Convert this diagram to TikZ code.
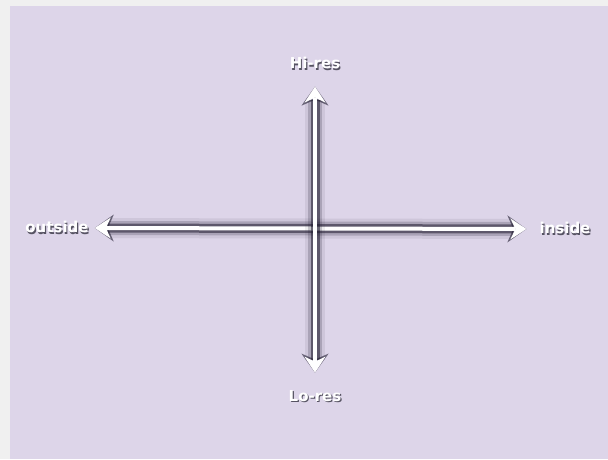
\documentclass[tikz,border=0pt]{standalone}
\usepackage{fontspec}
\setmainfont{DejaVu Sans}
\usetikzlibrary{arrows.meta}
\definecolor{lavender}{HTML}{DDD5E9}
\definecolor{margingray}{HTML}{F0F0F0}
\definecolor{halo}{HTML}{1E1A2E}
\newcommand{\glowtext}[1]{\makebox[0pt][l]{\hspace{1.2pt}\raisebox{-1.2pt}{\color{halo!75}#1}}#1}
\tikzstyle{lbl} = [text=white, font=\fontsize{15}{15}\selectfont\bfseries, inner sep=2pt]
\tikzstyle{tips} = [{Stealth[length=16pt,width=21pt,inset=5pt,line width=0pt]}-{Stealth[length=16pt,width=21pt,inset=5pt,line width=0pt]}]
\tikzstyle{halotips} = [{Stealth[length=19pt,width=27pt,inset=6pt,line width=0pt]}-{Stealth[length=19pt,width=27pt,inset=6pt,line width=0pt]}]
\tikzstyle{axis} = [tips, white, line width=4pt,
    preaction={draw=halo, draw opacity=0.08, fill opacity=0.08, line width=20pt, halotips},
    preaction={draw=halo, draw opacity=0.2, fill opacity=0.2, line width=14pt, halotips},
    preaction={draw=halo, draw opacity=0.55, fill opacity=0.45, line width=9pt, halotips}]

\begin{document}
\begin{tikzpicture}[x=1pt, y=-1pt]
        % Background
        \fill[margingray] (0,0) rectangle (608,459);
        \fill[lavender] (10,6) rectangle (608,459);
        \useasboundingbox (0,0) rectangle (608,459);
        % Nodes
        \node (hires) [lbl] at (315,64) {\glowtext{Hi-res}};
        \node (lores) [lbl] at (315,397) {\glowtext{Lo-res}};
        \node (outside) [lbl] at (57,228) {\glowtext{outside}};
        \node (inside) [lbl] at (565,229) {\glowtext{inside}};
        % Arrows
        \draw[axis, shorten <=4pt, shorten >=11pt] (outside.east) -- (inside.west);
        \draw[axis, shorten <=14pt, shorten >=16pt] (hires.south) -- (lores.north);
    \end{tikzpicture}
\end{document}
